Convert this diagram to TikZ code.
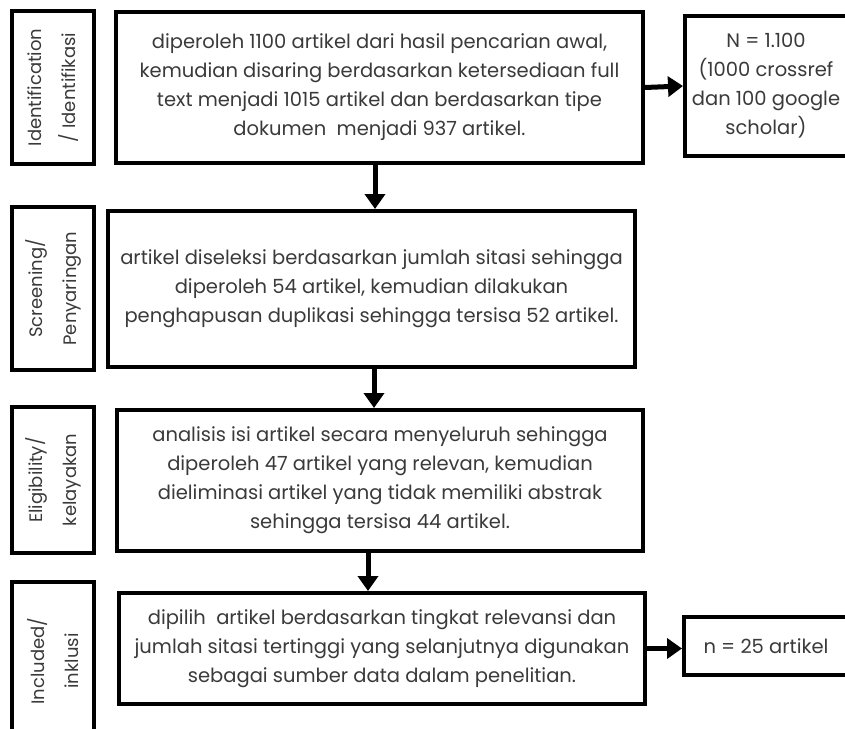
\documentclass[tikz,border=0pt]{standalone}
\usepackage{fontspec}
\setmainfont{Poppins}
\usetikzlibrary{arrows.meta,calc}
\definecolor{txtgray}{HTML}{3A3A3A}
\begin{document}
\begin{tikzpicture}[x=1pt,y=-1pt,
  box/.style={draw=black,line width=4pt,inner sep=0pt},
  lab/.style={box,rotate=90,align=center,text=txtgray,font=\fontsize{18}{34}\selectfont},
  main/.style={box,align=center,text=txtgray,font=\fontsize{19.5}{29}\selectfont},
  txt/.style={align=center,text=txtgray,font=\fontsize{19.5}{29}\selectfont},
  arr/.style={line width=5pt,-{Triangle[width=20pt,length=15pt]}}]
\clip (0,0) rectangle (845,728);
\fill[white] (0,0) rectangle (845,728);
% stage labels
\node[lab,minimum width=153pt,minimum height=82pt] (l1) at (53,87.5) {Identification\\/ Identifikasi};
\node[lab,minimum width=163pt,minimum height=82pt] (l2) at (53,288.5) {Screening/\\Penyaringan};
\node[lab,minimum width=146pt,minimum height=82pt] (l3) at (53,480) {Eligibility/\\kelayakan};
\node[lab,minimum width=158pt,minimum height=82pt] (l4) at (53,661) {Included/\\inklusi};
% main boxes
\node[main,minimum width=527pt,minimum height=151pt] (m1) at (379.5,87.5)
  {diperoleh 1100 artikel dari hasil pencarian awal,\\kemudian disaring berdasarkan ketersediaan full\\text menjadi 1015 artikel dan berdasarkan tipe\\dokumen\ \ menjadi 937 artikel.};
\node[main,minimum width=527pt,minimum height=156pt] (m2) at (371.5,289)
  {artikel diseleksi berdasarkan jumlah sitasi sehingga\\diperoleh 54 artikel, kemudian dilakukan\\penghapusan duplikasi sehingga tersisa 52 artikel.};
\node[main,minimum width=526pt,minimum height=141pt] (m3) at (380,480.5)
  {analisis isi artikel secara menyeluruh sehingga\\diperoleh 47 artikel yang relevan, kemudian\\dieliminasi artikel yang tidak memiliki abstrak\\sehingga tersisa 44 artikel.};
\node[main,minimum width=526pt,minimum height=111pt] (m4) at (382,648.5)
  {dipilih\ \ artikel berdasarkan tingkat relevansi dan\\jumlah sitasi tertinggi yang selanjutnya digunakan\\sebagai sumber data dalam penelitian.};
% result boxes (cut by the right edge)
\node[box,minimum width=175pt,minimum height=140pt] (r1) at (772.5,86) {};
\node[txt] (r1t) at (766,86) {N = 1.100\\(1000 crossref\\dan 100 google\\scholar)};
\node[box,minimum width=175pt,minimum height=58pt] (r4) at (771.5,646) {};
\node[txt] (r4t) at (766,646) {n = 25 artikel};
% connectors
\draw[arr] (m1.east) -- (r1.west);
\draw[arr] (m4.east) -- (m4.east -| r4.west);
\draw[arr] ([xshift=-4.5pt]m1.south) -- ([xshift=-4.5pt]m1.south |- m2.north);
\draw[arr] ([xshift=2.5pt]m2.south) -- ([xshift=2.5pt]m2.south |- m3.north);
\draw[arr] ([xshift=-12pt]m3.south) -- ([xshift=-12pt]m3.south |- m4.north);
\end{tikzpicture}
\end{document}
